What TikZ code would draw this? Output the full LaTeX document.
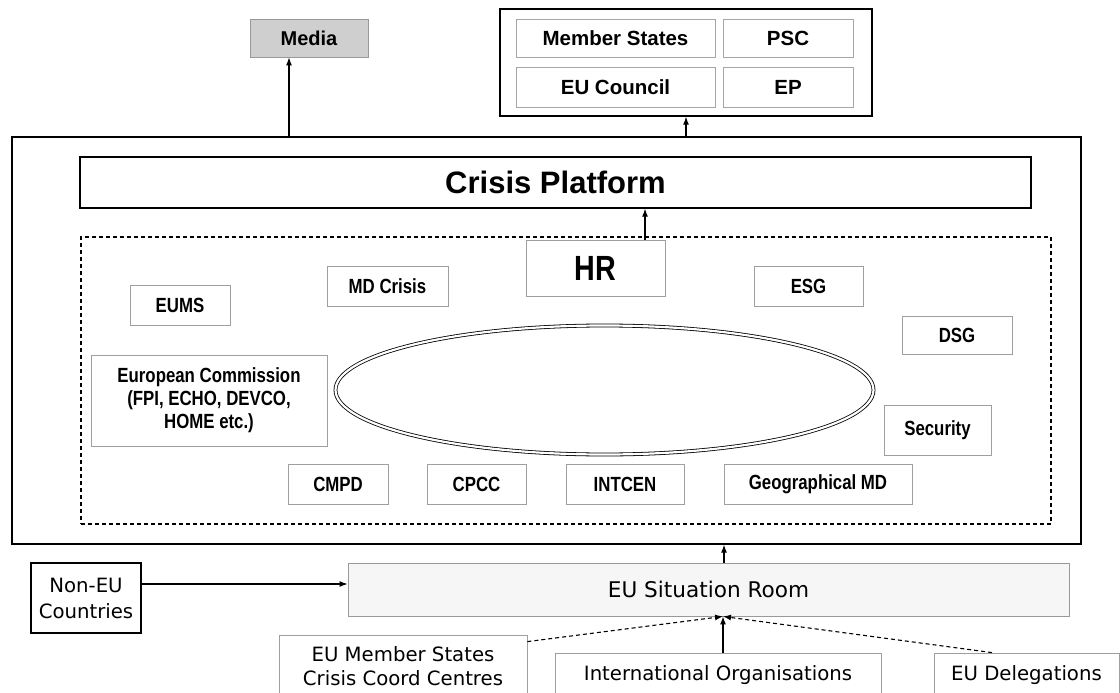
\documentclass[tikz,border=0pt]{standalone}
\usepackage{fontspec}
\setmainfont{Liberation Sans}
\newfontfamily\dvs{DejaVu Sans}
\newfontfamily\narrowb[FakeStretch=0.82]{Liberation Sans Bold}
\usetikzlibrary{arrows.meta,calc,shapes.geometric}
\tikzset{
  sz/.style 2 args={minimum width=#1, minimum height=#2},
  blk/.style={draw=black, line width=1.4pt},
  gbox/.style={draw=gray!75, line width=0.8pt, font=\narrowb\fontsize{20.5}{23}\selectfont},
  topbox/.style={draw=gray!70, line width=0.8pt, font=\bfseries\fontsize{20.5}{24}\selectfont},
  botbox/.style={draw=gray!75, line width=0.8pt, font=\dvs\fontsize{19.7}{24}\selectfont},
  arr/.style={line width=1.1pt, -{Latex[length=8pt,width=6pt]}},
  darr/.style={line width=1.1pt, dash pattern=on 4pt off 3pt, -{Latex[length=8pt,width=6pt]}},
}
\begin{document}
\begin{tikzpicture}[x=1pt,y=-1pt, every node/.style={inner sep=0pt, align=center}]
\useasboundingbox (0,0) rectangle (1120,693);
\fill[white] (0,0) rectangle (1120,693);

% top area
\node[draw=gray!80, line width=0.8pt, fill=gray!38, sz={118pt}{38pt}, font=\bfseries\fontsize{20}{22}\selectfont] (media) at (309,38) {Media};
\node[blk, sz={372pt}{107pt}] (topgrp) at (686,62.5) {};
\node[topbox, sz={199pt}{38pt}] (ms) at (615.5,38) {Member States};
\node[topbox, sz={130pt}{38pt}] (psc) at (788,38) {PSC};
\node[topbox, sz={199pt}{40pt}] (euc) at (615.5,87) {EU Council};
\node[topbox, sz={130pt}{40pt}] (ep) at (788,87) {EP};

% outer frame
\node[blk, sz={1069pt}{407pt}] (outer) at (546.5,340.5) {};
\node[blk, sz={951pt}{51pt}, font=\bfseries\fontsize{31}{34}\selectfont] (cp) at (555.5,182.5) {Crisis Platform};
\node[draw=black, line width=1.2pt, dash pattern=on 4pt off 3pt, sz={970pt}{287pt}] (dbox) at (566,380.5) {};

\node[draw=gray!75, line width=0.8pt, fill=white, sz={139pt}{56pt}, font=\narrowb\fontsize{35}{36}\selectfont] (hr) at (595.5,268) {HR};
\node[gbox, sz={121pt}{40pt}] (mdc) at (387.5,286) {MD Crisis};
\node[gbox, sz={100pt}{40pt}] (eums) at (180,305) {EUMS};
\node[gbox, sz={236pt}{91pt}] (ec) at (209,400.5) {European Commission\\(FPI, ECHO, DEVCO,\\HOME etc.)};
\node[gbox, sz={109pt}{40pt}] (esg) at (808.5,286) {ESG};
\node[gbox, sz={110pt}{38pt}] (dsg) at (957,335) {DSG};
\node[gbox, sz={107pt}{50pt}] (sec) at (937.5,430) {Security};
\node[gbox, sz={100pt}{40pt}] (cmpd) at (338,484) {CMPD};
\node[gbox, sz={99pt}{40pt}] (cpcc) at (476.5,484) {CPCC};
\node[gbox, sz={118pt}{40pt}] (intcen) at (625,484) {INTCEN};
\node[gbox, sz={188pt}{40pt}] (geo) at (818,484) {Geographical MD};
\node[ellipse, draw=black, line width=0.8pt, double=white, double distance=2.2pt, sz={538pt}{129pt}] (ell) at (604.5,390) {};

% bottom area
\node[draw=gray!80, line width=0.9pt, fill=gray!7, sz={721pt}{53pt}, font=\dvs\fontsize{21.6}{24}\selectfont] (sr) at (708.5,589.5) {EU Situation Room};
\node[blk, sz={110pt}{70pt}, font=\dvs\fontsize{19.7}{26}\selectfont] (noneu) at (86,598) {Non-EU\\Countries};
\node[botbox, sz={248pt}{62pt}] (emsc) at (403,666) {EU Member States\\Crisis Coord Centres};
\node[botbox, sz={326pt}{44pt}] (io) at (718,675) {International Organisations};
\node[botbox, sz={185pt}{44pt}] (eud) at (1026.5,675) {EU Delegations};

% connectors
\coordinate (mA) at ([xshift=-20pt]media.south);
\draw[arr] (mA |- outer.north) -- (mA);
\draw[arr] (topgrp.south |- outer.north) -- (topgrp.south);
\coordinate (hA) at ([xshift=49.5pt]hr.north);
\draw[arr] (hA) -- (hA |- cp.south);
\coordinate (sA) at ([xshift=15.5pt]sr.north);
\draw[arr] (sA) -- (sA |- outer.south);
\coordinate (nA) at ([yshift=14pt]noneu.east);
\draw[arr] (nA) -- (nA -| sr.west);
\coordinate (iA) at ([xshift=5pt]io.north);
\coordinate (tgt) at (iA |- sr.south);
\draw[arr] (iA) -- (tgt);
\draw[darr] ([yshift=-7pt]emsc.north east) -- (tgt);
\draw[darr] ([xshift=-34.5pt]eud.north) -- (tgt);
\end{tikzpicture}
\end{document}
